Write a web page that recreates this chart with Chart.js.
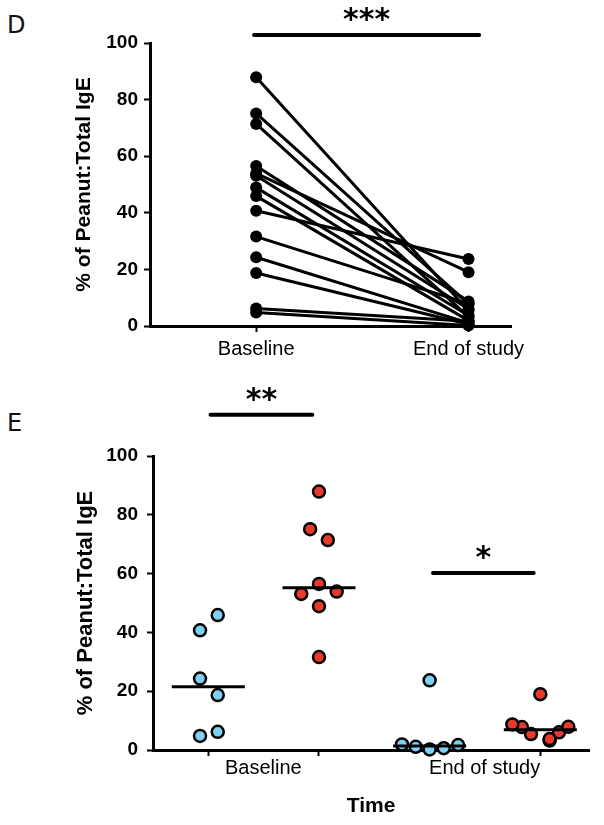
<!DOCTYPE html>
<html>
<head>
<meta charset="utf-8">
<script src="https://cdn.jsdelivr.net/npm/chart.js@4.4.1/dist/chart.umd.min.js"></script>
<style>
  html, body { margin: 0; padding: 0; background: #fff; }
  body { width: 604px; height: 825px; position: relative; overflow: hidden; }
  canvas { position: absolute; left: 0; }
  #chartD { top: 0; }
  #chartE { top: 370px; }
  .panel { position: absolute; left: 7px; font-family: "DejaVu Sans", sans-serif; font-size: 24px; color: #111; }
</style>
</head>
<body>
<div class="panel" style="top:11px">D</div>
<div class="panel" style="top:409px">E</div>
<canvas id="chartD" width="604" height="370"></canvas>
<canvas id="chartE" width="604" height="455"></canvas>
<script>
// categories
const timeLabels = ["Baseline", "End of study"];
const yTicks = [0, 20, 40, 60, 80, 100];

// % of Peanut:Total IgE per patient (blue group, red group)
const blueBaseline = [40.7, 45.9, 24.3, 18.7, 6.2, 4.8];
const blueEnd = [23.7, 1.9, 1.1, 0.6, 1.7, 0.2];
const redBaseline = [53.9, 87.9, 75.1, 71.4, 56.5, 53.1, 48.9, 31.6];
const redEnd = [19.0, 5.4, 7.8, 3.2, 8.7, 6.0, 3.7, 7.9];

// horizontal spread of the dots in panel E (in category units)
const blueBaseJitter = [-0.075, 0.085, -0.075, 0.085, 0.085, -0.075];
const blueEndJitter = [0, -0.25, -0.126, 0.127, 0.257, 0];
const redBaseJitter = [0.16, 0, -0.08, 0.08, 0, -0.16, 0, 0];
const redEndJitter = [0, -0.084, -0.166, 0.084, -0.253, 0.169, 0.084, 0.253];

// significance markers: [from, to, y, label]
const sigD = [[0.99, 2.05, 102.8, "***"]];
const sigE = [[1.02, 1.94, 114, "**"], [3.03, 3.94, 60.2, "*"]];

const BLUE = "#7fd0f2";
const RED = "#e8392a";
const tickFont = { family: "Liberation Sans", size: 19, weight: "bold" };
const catFont = { family: "Liberation Sans", size: 20 };

function median(arr) {
  const s = arr.slice().sort((a, b) => a - b);
  const m = Math.floor(s.length / 2);
  return s.length % 2 ? s[m] : (s[m - 1] + s[m]) / 2;
}

const starPlugin = {
  id: "stars",
  afterDatasetsDraw(chart, args, opts) {
    const { ctx, scales } = chart;
    ctx.save();
    ctx.fillStyle = "#000";
    ctx.font = "bold 30px 'DejaVu Sans'";
    ctx.textAlign = "center";
    ctx.textBaseline = "alphabetic";
    opts.marks.forEach(m => {
      const x = scales.x.getPixelForValue((m[0] + m[1]) / 2);
      const y = scales.y.getPixelForValue(m[2]);
      ctx.fillText(m[3], x, y - 6);
    });
    ctx.restore();
  },
};

function sigDatasets(marks) {
  return marks.map(m => ({
    type: "line",
    data: [{ x: m[0], y: m[2] }, { x: m[1], y: m[2] }],
    showLine: true,
    borderColor: "#000",
    borderWidth: 4,
    borderCapStyle: "round",
    pointRadius: 0,
    clip: false,
  }));
}

function yAxis(width, titleSize, titlePad, tickPad) {
  return {
    type: "linear",
    min: 0,
    max: 100,
    afterBuildTicks: s => { s.ticks = yTicks.map(v => ({ value: v })); },
    afterFit: s => { s.width = width; },
    ticks: { color: "#000", font: tickFont, padding: tickPad },
    grid: { drawOnChartArea: false, drawTicks: true, tickLength: 6, tickWidth: 2, color: "#000" },
    border: { display: true, color: "#000", width: 3 },
    title: {
      display: true,
      text: "% of Peanut:Total IgE",
      color: "#000",
      font: { family: "Liberation Sans", size: titleSize, weight: "bold" },
      padding: { top: titlePad, bottom: 0 },
    },
  };
}

// ---------- panel D ----------
const dDatasets = [];
const allBase = blueBaseline.concat(redBaseline);
const allEnd = blueEnd.concat(redEnd);
allBase.forEach((b, i) => {
  dDatasets.push({
    type: "line",
    data: [{ x: 1, y: b }, { x: 2, y: allEnd[i] }],
    showLine: true,
    borderColor: "#000",
    borderWidth: 3,
    pointRadius: 6,
    pointBackgroundColor: "#000",
    pointBorderWidth: 0,
    clip: false,
  });
});

new Chart(document.getElementById("chartD"), {
  type: "scatter",
  data: { datasets: dDatasets.concat(sigDatasets(sigD)) },
  options: {
    responsive: false,
    animation: false,
    layout: { padding: { left: 70, top: 43, right: 93, bottom: 0 } },
    scales: {
      x: {
        type: "linear",
        min: 0.5,
        max: 2.2,
        afterBuildTicks: s => { s.ticks = [{ value: 1 }, { value: 2 }]; },
        afterFit: s => { s.height = 44; },
        ticks: { color: "#000", font: catFont, padding: 5, maxRotation: 0,
          callback: v => timeLabels[v - 1] },
        grid: { drawOnChartArea: false, drawTicks: true, tickLength: 6, tickWidth: 2, color: "#000" },
        border: { display: true, color: "#000", width: 3 },
      },
      y: yAxis(80, 21, 2, 6),
    },
    plugins: { legend: { display: false }, tooltip: { enabled: false }, stars: { marks: sigD } },
  },
  plugins: [starPlugin],
});

// ---------- panel E ----------
function dots(values, group, jitter, color) {
  return {
    data: values.map((v, i) => ({ x: group + jitter[i], y: v })),
    pointRadius: 6,
    pointBorderWidth: 2.5,
    pointBorderColor: "#000",
    pointBackgroundColor: color,
    clip: false,
  };
}
function medianLine(values, group) {
  const m = median(values);
  return {
    type: "line",
    data: [{ x: group - 0.33, y: m }, { x: group + 0.33, y: m }],
    showLine: true,
    borderColor: "#000",
    borderWidth: 3,
    pointRadius: 0,
    clip: false,
  };
}

const eDatasets = [
  medianLine(blueBaseline, 1),
  medianLine(redBaseline, 2),
  medianLine(blueEnd, 3),
  medianLine(redEnd, 4),
  dots(blueBaseline, 1, blueBaseJitter, BLUE),
  dots(redBaseline, 2, redBaseJitter, RED),
  dots(blueEnd, 3, blueEndJitter, BLUE),
  dots(redEnd, 4, redEndJitter, RED),
].concat(sigDatasets(sigE));

new Chart(document.getElementById("chartE"), {
  type: "scatter",
  data: { datasets: eDatasets },
  options: {
    responsive: false,
    animation: false,
    layout: { padding: { left: 70, top: 86, right: 15, bottom: 0 } },
    scales: {
      x: {
        type: "linear",
        min: 0.5,
        max: 4.44,
        afterBuildTicks: s => { s.ticks = [1, 2, 3, 4].map(v => ({ value: v })); },
        afterFit: s => { s.height = 75; },
        ticks: { color: "#000", font: catFont, padding: 0, maxRotation: 0, labelOffset: 55,
          callback: v => (v === 1 ? timeLabels[0] : v === 3 ? timeLabels[1] : "") },
        grid: { drawOnChartArea: false, drawTicks: true, tickLength: 6, tickWidth: 2, color: "#000" },
        border: { display: true, color: "#000", width: 3 },
        title: {
          display: true,
          text: "Time",
          color: "#000",
          font: { family: "Liberation Sans", size: 21, weight: "bold" },
          padding: { top: 0, bottom: 6 },
        },
      },
      y: yAxis(83, 22, 3, 9),
    },
    plugins: { legend: { display: false }, tooltip: { enabled: false }, stars: { marks: sigE } },
  },
  plugins: [starPlugin],
});
</script>
</body>
</html>
